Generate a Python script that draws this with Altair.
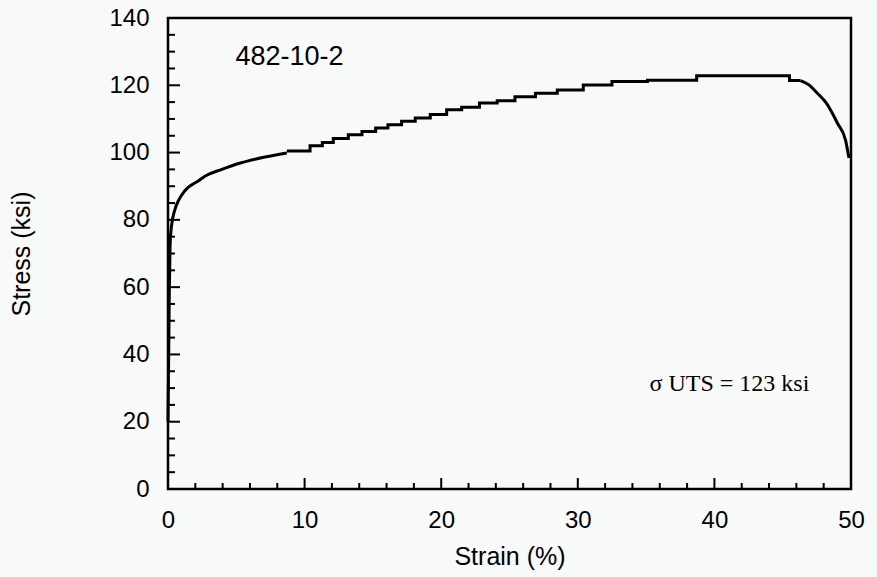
import altair as alt
import pandas as pd

# --- data ---
# elastic / early hardening part (smooth)
elastic_strain = [0.0, 0.05, 0.1, 0.15, 0.25, 0.5, 0.8, 1.2, 2.3, 2.8, 3.8, 5.3, 7.0, 8.7]
elastic_stress = [20.0, 40.0, 60.0, 72.0, 78.0, 83.0, 86.0, 88.5, 91.8, 93.2, 94.8, 96.9, 98.6, 99.9]

# stair-stepped hardening part (start of each step, level)
step_strain = [8.7, 10.4, 11.3, 12.1, 13.2, 14.2, 15.2, 16.1, 17.1, 18.1, 19.2, 20.4, 21.5,
               22.8, 24.1, 25.4, 26.9, 28.5, 30.4, 32.5, 35.1, 38.7, 45.5, 46.3]
step_stress = [100.5, 102.0, 103.0, 104.2, 105.3, 106.3, 107.3, 108.3, 109.3, 110.3, 111.3,
               112.7, 113.5, 114.7, 115.4, 116.6, 117.6, 118.6, 120.1, 121.1, 121.5, 122.8,
               121.4, 121.4]

# necking part
neck_strain = [46.3, 46.9, 47.5, 48.2, 49.0, 49.6, 49.85]
neck_stress = [121.4, 120.2, 117.8, 114.7, 108.8, 103.7, 98.4]

x_major = [0, 10, 20, 30, 40, 50]
x_minor = [v for v in range(0, 51, 2) if v % 10 != 0]
y_major = [0, 20, 40, 60, 80, 100, 120, 140]
y_minor = [v for v in range(0, 141, 5) if v % 20 != 0]

W, H = 683, 471
FONT = "Liberation Sans"

xs = alt.Scale(domain=[0, 50], nice=False)
ys = alt.Scale(domain=[0, 140], nice=False)

x_axis = alt.Axis(values=x_major, ticks=False, domain=False, grid=False, labelFlush=False,
                  labelPadding=19, labelFontSize=24, labelFont=FONT, labelColor="black",
                  title="Strain (%)", titleFont=FONT, titleFontSize=25, titleFontWeight="normal",
                  titleColor="black", titlePadding=12)
y_axis = alt.Axis(values=y_major, ticks=False, domain=False, grid=False, labelFlush=False,
                  labelPadding=19, labelFontSize=24, labelFont=FONT, labelColor="black",
                  title="Stress (ksi)", titleFont=FONT, titleFontSize=25, titleFontWeight="normal",
                  titleColor="black", titlePadding=74)

elastic_df = pd.DataFrame({"strain": elastic_strain, "stress": elastic_stress})
step_df = pd.DataFrame({"strain": step_strain, "stress": step_stress})
neck_df = pd.DataFrame({"strain": neck_strain, "stress": neck_stress})

base_enc = dict(
    x=alt.X("strain:Q", scale=xs, axis=x_axis),
    y=alt.Y("stress:Q", scale=ys, axis=y_axis),
)

elastic = alt.Chart(elastic_df).mark_line(color="black", strokeWidth=3, interpolate="monotone").encode(**base_enc)
steps = alt.Chart(step_df).mark_line(color="black", strokeWidth=3, interpolate="step-after").encode(
    x=alt.X("strain:Q", scale=xs), y=alt.Y("stress:Q", scale=ys))
neck = alt.Chart(neck_df).mark_line(color="black", strokeWidth=3, interpolate="monotone").encode(
    x=alt.X("strain:Q", scale=xs), y=alt.Y("stress:Q", scale=ys))

# inward ticks
xmaj = alt.Chart(pd.DataFrame({"v": x_major})).mark_rule(color="black", strokeWidth=2).encode(
    x=alt.X("v:Q", scale=xs), y=alt.value(H), y2=alt.value(H - 11))
xmin = alt.Chart(pd.DataFrame({"v": x_minor})).mark_rule(color="black", strokeWidth=2).encode(
    x=alt.X("v:Q", scale=xs), y=alt.value(H), y2=alt.value(H - 6))
ymaj = alt.Chart(pd.DataFrame({"v": y_major})).mark_rule(color="black", strokeWidth=2).encode(
    y=alt.Y("v:Q", scale=ys), x=alt.value(0), x2=alt.value(12))
ymin = alt.Chart(pd.DataFrame({"v": y_minor})).mark_rule(color="black", strokeWidth=2).encode(
    y=alt.Y("v:Q", scale=ys), x=alt.value(0), x2=alt.value(7))

label_df = pd.DataFrame({"strain": [8.9], "stress": [128.4], "t": ["482-10-2"]})
label = alt.Chart(label_df).mark_text(font=FONT, fontSize=27, color="black", align="center",
                                      baseline="middle").encode(
    x=alt.X("strain:Q", scale=xs), y=alt.Y("stress:Q", scale=ys), text="t:N")

uts_df = pd.DataFrame({"strain": [41.1], "stress": [31.2], "t": ["σ UTS = 123 ksi"]})
uts = alt.Chart(uts_df).mark_text(font="Liberation Serif", fontSize=24, color="black",
                                  align="center", baseline="middle").encode(
    x=alt.X("strain:Q", scale=xs), y=alt.Y("stress:Q", scale=ys), text="t:N")

chart = alt.layer(elastic, steps, neck, xmaj, xmin, ymaj, ymin, label, uts).properties(
    width=W, height=H,
    autosize=alt.AutoSizeParams(type="none"),
    padding={"left": 168, "top": 18, "right": 26, "bottom": 88},
    background="#f8f9f9",
).configure_view(stroke="black", strokeWidth=2.5)

chart.save("out.html", embed_options={"renderer": "svg", "actions": False})
